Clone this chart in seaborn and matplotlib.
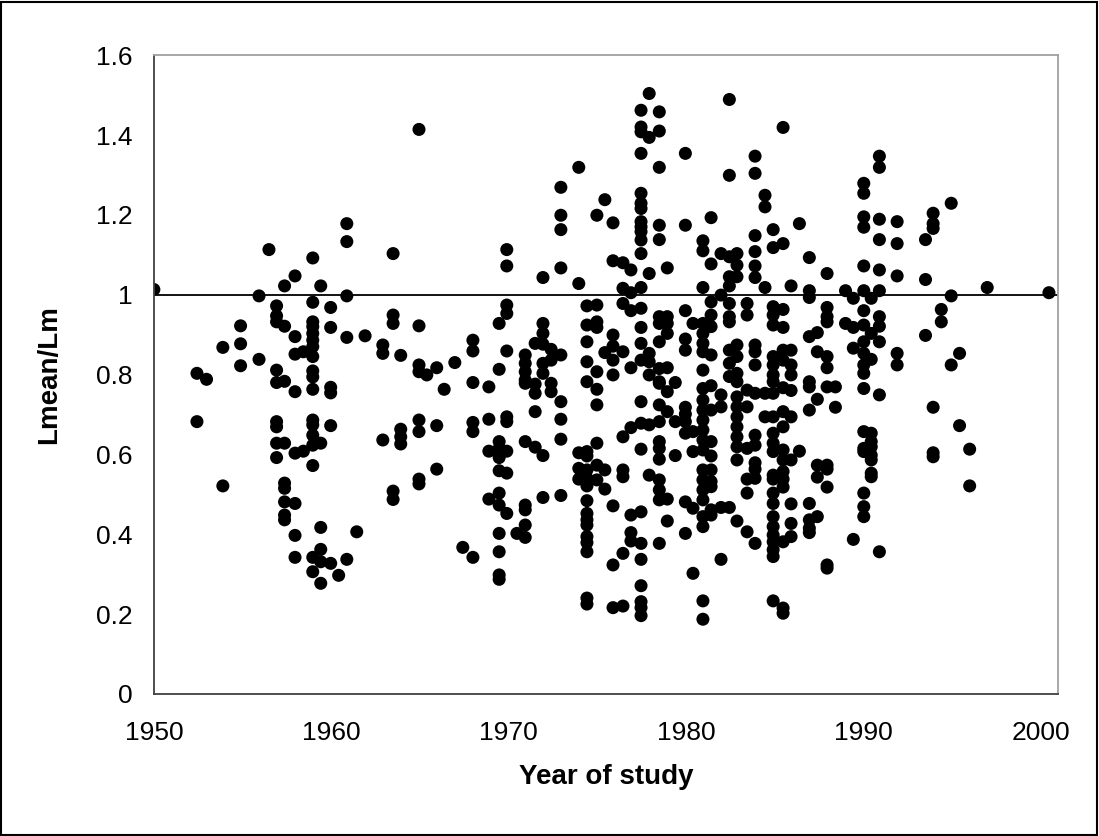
'''
scatter of Lmean/Lm against year of study
'''
import matplotlib
matplotlib.use('Agg')
import pandas as pd
import seaborn as sns
import matplotlib.pyplot as plt
from matplotlib.patches import Rectangle

# year of study and the Lmean/Lm values recorded for it
years = [1950.0, 1952.43, 1952.97, 1953.89, 1954.89, 1955.93, 1956.49, 1956.92,
         1957.37, 1957.96, 1958.43, 1958.96, 1959.41, 1959.97, 1960.42, 1960.88,
         1961.44, 1961.91, 1962.91, 1963.49, 1963.92, 1964.95, 1965.39, 1965.95,
         1966.37, 1966.97, 1967.42, 1967.99, 1968.89, 1969.47, 1969.90, 1970.47,
         1970.94, 1971.50, 1971.94, 1972.40, 1972.95, 1973.96, 1974.42, 1974.98,
         1975.43, 1975.89, 1976.45, 1976.90, 1977.47, 1977.93, 1978.50, 1978.95,
         1979.40, 1979.97, 1980.40, 1980.96, 1981.42, 1981.98, 1982.45, 1982.88,
         1983.45, 1983.90, 1984.46, 1984.92, 1985.48, 1985.93, 1986.40, 1986.96,
         1987.41, 1987.96, 1988.43, 1989.00, 1989.44, 1990.03, 1990.45, 1990.91,
         1991.91, 1993.51, 1993.94, 1994.40, 1994.96, 1995.43, 1996.00, 1996.99,
         2000.47]

ratios = [
    [1.013],
    [0.803, 0.682],
    [0.788],
    [0.868, 0.521],
    [0.922, 0.877, 0.822],
    [0.997, 0.838],
    [1.113],
    [0.972, 0.947, 0.932, 0.811, 0.780, 0.682, 0.669, 0.628, 0.592],
    [1.022, 0.921, 0.783, 0.628, 0.528, 0.515, 0.481, 0.448, 0.436],
    [1.047, 0.895, 0.851, 0.757, 0.603, 0.477, 0.397, 0.342],
    [0.857, 0.608],
    [1.092, 0.981, 0.932, 0.920, 0.903, 0.886, 0.870, 0.845, 0.809, 0.794,
     0.763, 0.686, 0.674, 0.648, 0.623, 0.572, 0.342, 0.306],
    [1.022, 0.628, 0.417, 0.362, 0.331, 0.277],
    [0.968, 0.918, 0.768, 0.754, 0.672, 0.327],
    [0.297],
    [1.178, 1.133, 0.997, 0.893, 0.337],
    [0.406],
    [0.897],
    [0.874, 0.853, 0.636],
    [1.103, 0.949, 0.928, 0.508, 0.487],
    [0.848, 0.663, 0.644, 0.626],
    [1.414, 0.922, 0.824, 0.807, 0.686, 0.657, 0.538, 0.526],
    [0.799],
    [0.817, 0.672, 0.563],
    [0.763],
    [0.830],
    [0.367],
    [0.886, 0.859, 0.780, 0.680, 0.657, 0.342],
    [0.769, 0.688, 0.608, 0.488],
    [0.928, 0.813, 0.632, 0.615, 0.592, 0.559, 0.503, 0.473, 0.402, 0.356,
     0.298, 0.287],
    [1.113, 1.072, 0.974, 0.953, 0.859, 0.694, 0.682, 0.608, 0.553, 0.452],
    [0.402],
    [0.849, 0.828, 0.807, 0.786, 0.778, 0.632, 0.473, 0.461, 0.423, 0.392],
    [0.878, 0.776, 0.753, 0.707, 0.618],
    [1.043, 0.928, 0.903, 0.876, 0.828, 0.803, 0.597, 0.492],
    [0.863, 0.836, 0.778, 0.757],
    [1.269, 1.199, 1.163, 1.067, 0.849, 0.732, 0.688, 0.638, 0.497],
    [1.319, 1.028, 0.604, 0.565, 0.538],
    [0.972, 0.924, 0.882, 0.832, 0.782, 0.607, 0.596, 0.561, 0.540, 0.521,
     0.484, 0.452, 0.436, 0.423, 0.394, 0.379, 0.356, 0.240, 0.225],
    [1.199, 0.974, 0.932, 0.918, 0.807, 0.763, 0.724, 0.628, 0.573, 0.536],
    [1.238, 0.855, 0.561, 0.513],
    [1.180, 1.085, 0.899, 0.871, 0.836, 0.799, 0.471, 0.323, 0.216],
    [1.080, 1.016, 0.978, 0.857, 0.644, 0.561, 0.544, 0.352, 0.220],
    [1.062, 1.005, 0.960, 0.817, 0.667, 0.448, 0.404, 0.383],
    [1.462, 1.420, 1.408, 1.354, 1.254, 1.229, 1.216, 1.183, 1.170, 1.158,
     1.137, 1.103, 1.018, 0.966, 0.918, 0.878, 0.836, 0.732, 0.678, 0.613,
     0.456, 0.377, 0.337, 0.271, 0.231, 0.216, 0.196],
    [1.504, 1.394, 1.053, 0.853, 0.832, 0.799, 0.674, 0.548],
    [1.458, 1.410, 1.319, 1.174, 1.138, 0.945, 0.928, 0.882, 0.815, 0.782,
     0.778, 0.724, 0.682, 0.632, 0.615, 0.588, 0.536, 0.511, 0.486, 0.377],
    [1.067, 0.945, 0.928, 0.903, 0.817, 0.757, 0.707, 0.488, 0.433],
    [0.780, 0.682, 0.597],
    [1.354, 1.174, 0.960, 0.889, 0.861, 0.718, 0.701, 0.682, 0.653, 0.481,
     0.402],
    [0.928, 0.657, 0.607, 0.465, 0.302],
    [1.135, 1.110, 1.018, 0.928, 0.903, 0.878, 0.857, 0.811, 0.765, 0.736,
     0.711, 0.686, 0.661, 0.636, 0.611, 0.561, 0.536, 0.511, 0.486, 0.444,
     0.419, 0.233, 0.187],
    [1.193, 1.077, 0.982, 0.949, 0.920, 0.849, 0.772, 0.711, 0.632, 0.596,
     0.561, 0.532, 0.519, 0.461, 0.448],
    [1.103, 0.999, 0.749, 0.719, 0.467, 0.337],
    [1.489, 1.299, 1.095, 1.045, 1.022, 0.978, 0.945, 0.932, 0.861, 0.828,
     0.795, 0.467],
    [1.103, 1.074, 1.045, 0.874, 0.845, 0.803, 0.782, 0.744, 0.719, 0.694,
     0.669, 0.644, 0.619, 0.586, 0.433],
    [0.978, 0.949, 0.761, 0.719, 0.615, 0.538, 0.503, 0.406],
    [1.347, 1.304, 1.148, 1.108, 1.072, 1.043, 0.874, 0.857, 0.824, 0.753,
     0.648, 0.623, 0.579, 0.563, 0.540, 0.377],
    [1.249, 1.220, 1.018, 0.753, 0.694],
    [1.163, 1.118, 0.970, 0.949, 0.924, 0.845, 0.824, 0.799, 0.782, 0.753,
     0.694, 0.653, 0.628, 0.607, 0.548, 0.538, 0.503, 0.477, 0.444, 0.419,
     0.398, 0.381, 0.361, 0.344, 0.233],
    [1.419, 1.128, 0.963, 0.918, 0.861, 0.836, 0.767, 0.707, 0.669, 0.611,
     0.586, 0.557, 0.538, 0.518, 0.381, 0.215, 0.202],
    [1.022, 0.861, 0.824, 0.799, 0.760, 0.694, 0.586, 0.476, 0.427, 0.394],
    [1.178, 0.608],
    [1.093, 1.010, 0.993, 0.895, 0.782, 0.769, 0.711, 0.477, 0.436, 0.415,
     0.404],
    [0.905, 0.857, 0.738, 0.573, 0.543, 0.444],
    [1.053, 0.968, 0.945, 0.932, 0.845, 0.817, 0.769, 0.573, 0.563, 0.518,
     0.323, 0.315],
    [0.769, 0.718],
    [1.010, 0.928],
    [0.991, 0.918, 0.866, 0.387],
    [1.279, 1.254, 1.195, 1.169, 1.072, 1.010, 0.960, 0.924, 0.882, 0.853,
     0.824, 0.803, 0.765, 0.657, 0.615, 0.607, 0.503, 0.469, 0.444],
    [0.991, 0.903, 0.838, 0.653, 0.632, 0.619, 0.598, 0.586, 0.553, 0.544],
    [1.347, 1.319, 1.189, 1.138, 1.062, 1.010, 0.945, 0.921, 0.882, 0.749,
     0.356],
    [1.183, 1.128, 1.047, 0.853, 0.824],
    [1.138, 1.038, 0.898],
    [1.204, 1.178, 1.166, 0.718, 0.604, 0.594],
    [0.963, 0.932],
    [1.229, 0.997, 0.824],
    [0.853, 0.672],
    [0.613, 0.521],
    [1.018],
    [1.005],
]

x_ticks = [1950, 1960, 1970, 1980, 1990, 2000]
y_ticks = [0, 0.2, 0.4, 0.6, 0.8, 1.0, 1.2, 1.4, 1.6]
reference_level = 1.0


def main():
    rows = [(yr, v) for yr, vals in zip(years, ratios) for v in vals]
    df = pd.DataFrame(rows, columns=["year", "ratio"])

    sns.set_style("white")
    plt.rcParams['font.family'] = ['Liberation Sans', 'DejaVu Sans']

    fig = plt.figure(figsize=(10.99, 8.36), dpi=100)
    ax = fig.add_axes([0.140, 0.170, 0.823, 0.764])

    sns.scatterplot(data=df, x="year", y="ratio", ax=ax, color="black",
                    s=88, edgecolor="none", linewidth=0, legend=False)
    ax.axhline(reference_level, color="black", lw=1.3, zorder=1)

    ax.set_xlim(1950, 2001)
    ax.set_ylim(0, 1.6)
    ax.set_xticks(x_ticks)
    ax.set_yticks(y_ticks)
    ax.set_yticklabels([f"{v:g}" for v in y_ticks])
    ax.tick_params(axis="both", direction="out", length=7.5, width=1,
                   color="#555555", labelsize=19, labelcolor="black")
    ax.tick_params(axis="x", pad=12)
    ax.tick_params(axis="y", pad=8)

    for side in ["left", "bottom"]:
        ax.spines[side].set_color("#404040")
        ax.spines[side].set_linewidth(1.3)
    for side in ["top", "right"]:
        ax.spines[side].set_color("#a0a0a0")
        ax.spines[side].set_linewidth(1.3)

    ax.set_xlabel("Year of study", fontsize=20, fontweight="bold",
                  labelpad=14, color="black")
    ax.set_ylabel("Lmean/Lm", fontsize=20, fontweight="bold",
                  labelpad=24, color="black")

    # black frame around the whole chart
    fig.patches.append(Rectangle((0.001, 0.001), 0.997, 0.997,
                                 transform=fig.transFigure, fill=False,
                                 edgecolor="black", lw=1.5))

    fig.savefig("out.png", dpi=100)


if __name__ == "__main__":
    main()
